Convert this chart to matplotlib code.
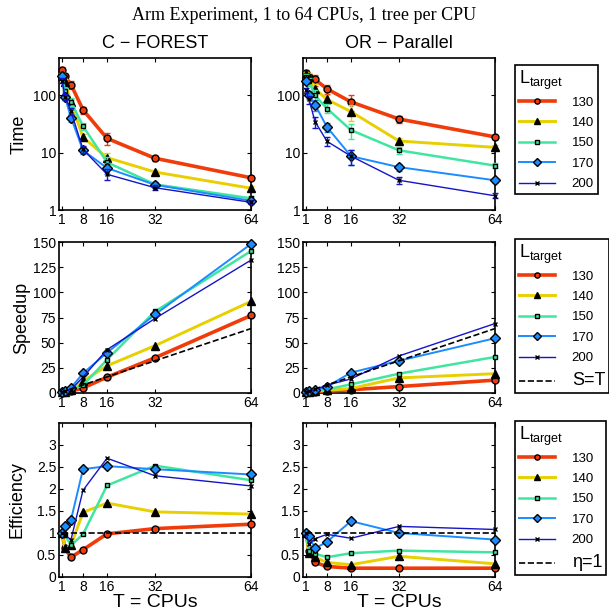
import matplotlib
matplotlib.use("Agg")
import matplotlib.pyplot as plt
from matplotlib.lines import Line2D

# число процессоров
cpus = [1, 2, 4, 8, 16, 32, 64]
xticks = [1, 8, 16, 32, 64]
targets = ["130", "140", "150", "170", "200"]

# C-FOREST: время
time_cf_130 = [280, 215, 155, 56, 17.8, 8.0, 3.65]
time_cf_140 = [220, 170, 76, 18.6, 8.2, 4.6, 2.4]
time_cf_150 = [225, 118, 78, 29, 6.8, 2.8, 1.6]
time_cf_170 = [215, 93, 41, 11, 5.4, 2.75, 1.45]
time_cf_200 = [180, 95, 53, 11.4, 4.2, 2.45, 1.36]
# относительная ошибка времени
err_cf = [0.10, 0.12, 0.15, 0.14, 0.22, 0.10, 0.08]

# OR-Parallel: время
time_or_130 = [248, 206, 190, 130, 77, 38.7, 18.9]
time_or_140 = [235, 210, 130, 85, 52, 16, 12.4]
time_or_150 = [213, 175, 100, 59, 24.8, 11, 5.95]
time_or_170 = [180, 103, 69, 28, 8.7, 5.6, 3.3]
time_or_200 = [122, 85, 35, 15.8, 8.7, 3.3, 1.77]
err_or = [0.10, 0.15, 0.22, 0.18, 0.30, 0.14, 0.10]

# ускорение
sp_cf_130 = [1, 1.3, 1.8, 5, 15.7, 35, 77]
sp_cf_140 = [1, 1.3, 2.9, 11.8, 27, 47, 91]
sp_cf_150 = [1, 1.9, 2.9, 7.8, 33, 81, 141]
sp_cf_170 = [1, 2.3, 5.2, 19.6, 40, 78, 148]
sp_cf_200 = [1, 1.9, 3.4, 15.8, 43, 74, 132]

sp_or_130 = [1, 1.2, 1.3, 1.9, 3.2, 6.4, 12.8]
sp_or_140 = [1, 1.1, 1.8, 2.6, 4.5, 15, 19.2]
sp_or_150 = [1, 1.2, 2.1, 3.6, 8.6, 19.2, 35.8]
sp_or_170 = [1, 1.9, 2.6, 6.4, 20.3, 32, 54.4]
sp_or_200 = [1, 1.5, 3.5, 7.8, 14, 36.8, 69]

# эффективность
ef_cf_130 = [1.0, 0.65, 0.45, 0.62, 0.98, 1.1, 1.2]
ef_cf_140 = [1.0, 0.65, 0.72, 1.47, 1.68, 1.48, 1.43]
ef_cf_150 = [1.0, 0.95, 0.72, 0.97, 2.08, 2.53, 2.2]
ef_cf_170 = [1.0, 1.15, 1.3, 2.45, 2.52, 2.45, 2.33]
ef_cf_200 = [1.0, 0.95, 0.85, 1.97, 2.7, 2.3, 2.07]

ef_or_130 = [1.0, 0.6, 0.33, 0.24, 0.2, 0.2, 0.2]
ef_or_140 = [1.0, 0.55, 0.45, 0.33, 0.28, 0.47, 0.3]
ef_or_150 = [1.0, 0.6, 0.53, 0.45, 0.54, 0.6, 0.56]
ef_or_170 = [1.0, 0.93, 0.65, 0.8, 1.27, 1.0, 0.85]
ef_or_200 = [1.0, 0.75, 0.87, 0.97, 0.88, 1.15, 1.08]

colors = ["#f03c0a", "#e8d000", "#40e6a0", "#1a8cff", "#1414c8"]
markers = ["o", "^", "s", "D", "x"]
mfaces = ["#f03c0a", "k", "#40e6a0", "#1a8cff", "k"]
msizes = [5, 6, 3.5, 5, 3.5]
lwidths = [2.6, 2.1, 1.8, 1.4, 1.0]

plt.rcParams["font.family"] = ["Liberation Sans", "DejaVu Sans"]

fig = plt.figure(figsize=(6.09, 6.12), dpi=100)
W, H = 609.0, 612.0


def make_ax(x0, y0, x1, y1):
    return fig.add_axes([x0 / W, 1 - y1 / H, (x1 - x0) / W, (y1 - y0) / H])


cols = [(59, 251), (303, 495)]
rows = [(58, 210), (242, 393), (423, 577)]
axes = [[make_ax(c[0], r[0], c[1], r[1]) for c in cols] for r in rows]

times = [[time_cf_130, time_cf_140, time_cf_150, time_cf_170, time_cf_200],
         [time_or_130, time_or_140, time_or_150, time_or_170, time_or_200]]
errs = [err_cf, err_or]
speedups = [[sp_cf_130, sp_cf_140, sp_cf_150, sp_cf_170, sp_cf_200],
            [sp_or_130, sp_or_140, sp_or_150, sp_or_170, sp_or_200]]
effs = [[ef_cf_130, ef_cf_140, ef_cf_150, ef_cf_170, ef_cf_200],
        [ef_or_130, ef_or_140, ef_or_150, ef_or_170, ef_or_200]]


def style(i, scale=1.0):
    return dict(color=colors[i], marker=markers[i], mfc=mfaces[i], mec="k",
                ms=msizes[i] * scale, lw=lwidths[i], mew=1.0, clip_on=False)


for j in range(2):
    # время
    ax = axes[0][j]
    for i in range(5):
        yerr = [v * e for v, e in zip(times[j][i], errs[j])]
        ax.errorbar(cpus, times[j][i], yerr=yerr, ecolor=colors[i], elinewidth=1,
                    capsize=2, zorder=3 + i, **style(i))
    ax.set_yscale("log")
    ax.set_ylim(1, 450)
    ax.set_yticks([1, 10, 100])
    ax.set_yticklabels(["1", "10", "100"])
    ax.minorticks_off()

    # ускорение
    ax = axes[1][j]
    for i in range(5):
        ax.plot(cpus, speedups[j][i], zorder=3 + i, **style(i))
    ax.plot([1, 64], [1, 64], "k--", lw=1.2, zorder=10)
    ax.set_ylim(0, 150)
    ax.set_yticks(range(0, 151, 25))

    # эффективность
    ax = axes[2][j]
    for i in range(5):
        ax.plot(cpus, effs[j][i], zorder=3 + i, **style(i))
    ax.plot([1, 64], [1, 1], "k--", lw=1.2, zorder=10)
    ax.set_ylim(0, 3.5)
    ax.set_yticks([0, 0.5, 1, 1.5, 2, 2.5, 3])
    ax.set_yticklabels(["0", "0.5", "1", "1.5", "2", "2.5", "3"])

for row in axes:
    for ax in row:
        ax.set_xlim(0, 64)
        ax.set_xticks(xticks)
        ax.tick_params(direction="in", top=True, right=True, length=3,
                       labelsize=10, pad=2)
        for s in ax.spines.values():
            s.set_linewidth(1.2)

axes[0][0].set_ylabel("Time", fontsize=13, labelpad=4)
axes[1][0].set_ylabel("Speedup", fontsize=13, labelpad=2)
axes[2][0].set_ylabel("Efficiency", fontsize=13, labelpad=8)
axes[2][0].set_xlabel("T = CPUs", fontsize=14, labelpad=0)
axes[2][1].set_xlabel("T = CPUs", fontsize=14, labelpad=0)

fig.text(0.5, 1 - 16 / H, "Arm Experiment, 1 to 64 CPUs, 1 tree per CPU",
         family=["Liberation Serif", "DejaVu Serif"], fontsize=13,
         ha="center", va="center")
fig.text(155 / W, 1 - 44 / H, "C \u2212 FOREST", fontsize=13, ha="center", va="center")
fig.text(399 / W, 1 - 44 / H, "OR \u2212 Parallel", fontsize=13, ha="center", va="center")

# легенды
handles = [Line2D([], [], **style(i, 0.75)) for i in range(5)]
legend_tops = [65, 239, 421]
extras = [None, "S=T", "\u03b7=1"]
for k, top in enumerate(legend_tops):
    hs = list(handles)
    labels = list(targets)
    if extras[k]:
        hs.append(Line2D([], [], color="k", ls="--", lw=1.2))
        labels.append(extras[k])
    leg = fig.legend(hs, labels, loc="upper left",
                     bbox_to_anchor=(515 / W, 1 - top / H), borderaxespad=0,
                     fontsize=9.5, handlelength=2.7, numpoints=1,
                     labelspacing=0.62, handletextpad=1.3, borderpad=0.3,
                     fancybox=False, edgecolor="k", framealpha=1,
                     title=r"$\mathregular{L_{target}}$", title_fontsize=13,
                     alignment="left")
    leg.get_frame().set_linewidth(1.2)
    leg._legend_box.sep = 3
    if extras[k]:
        leg.get_texts()[-1].set_fontsize(13)

fig.savefig("out.png", dpi=100)
